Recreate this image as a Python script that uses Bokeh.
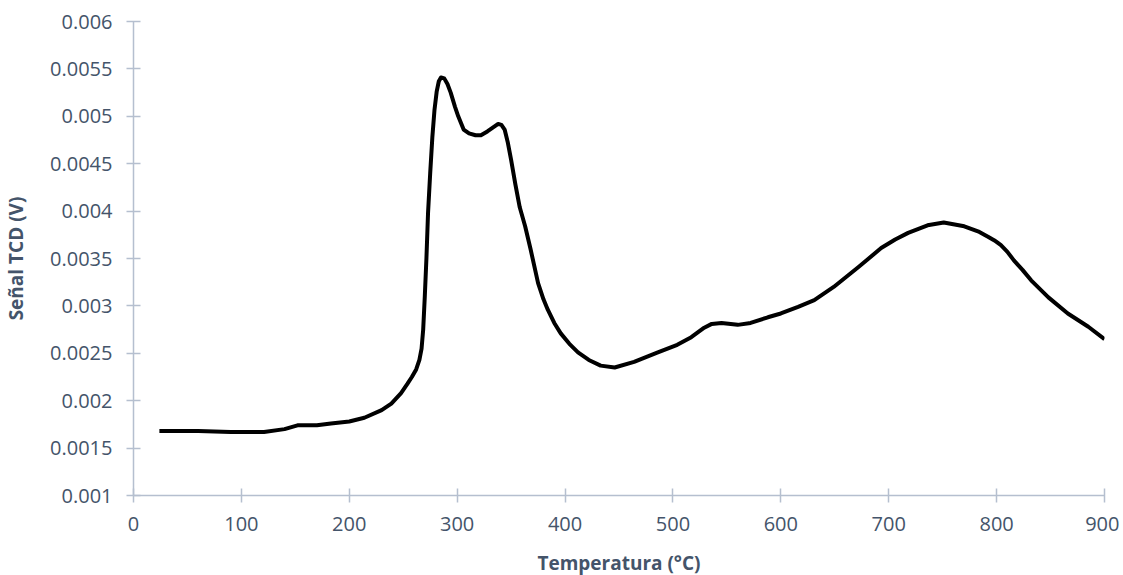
from bokeh.plotting import figure
from bokeh.models import Range1d, FixedTicker, CustomJSTickFormatter
from bokeh.embed import file_html
from bokeh.resources import INLINE

temperature = [24, 40, 60, 90, 121, 140, 152, 170, 183, 200, 214, 230, 239, 248, 254, 258, 262,
               265, 267, 268.5, 270, 271.5, 273, 275, 277, 279, 281, 283, 285, 288, 291, 294,
               298, 301, 306, 311, 317, 322, 328, 333, 338, 341, 344, 347, 350, 354, 358, 363,
               368, 375, 380, 384, 390, 396, 404, 412, 422, 433, 446, 464, 486, 504, 517, 523,
               529, 536, 545, 560, 572, 588, 600, 616, 631, 649, 672, 693, 706, 718, 736, 751,
               770, 784, 792, 798, 804, 810, 816, 824, 832, 848, 866, 885, 900]
signal = [0.00168, 0.00168, 0.00168, 0.00167, 0.00167, 0.00170, 0.00174, 0.00174, 0.00176,
          0.00178, 0.00182, 0.00190, 0.00197, 0.00208, 0.00218, 0.00225, 0.00233, 0.00243,
          0.00255, 0.00275, 0.00310, 0.00350, 0.00398, 0.00440, 0.00478, 0.00507, 0.00526,
          0.00537, 0.00541, 0.00540, 0.00534, 0.00525, 0.00510, 0.00500, 0.00486, 0.00482,
          0.00480, 0.00480, 0.00484, 0.00488, 0.00492, 0.00491, 0.00486, 0.00472, 0.00454,
          0.00428, 0.00404, 0.00384, 0.00360, 0.00324, 0.00307, 0.00296, 0.00282, 0.00271,
          0.00260, 0.00251, 0.00243, 0.00237, 0.00235, 0.00241, 0.00251, 0.00259, 0.00267,
          0.00272, 0.00277, 0.00281, 0.00282, 0.00280, 0.00282, 0.00288, 0.00292, 0.00299,
          0.00306, 0.00320, 0.00341, 0.00361, 0.00370, 0.00377, 0.00385, 0.00388, 0.00384,
          0.00378, 0.00373, 0.00369, 0.00364, 0.00357, 0.00348, 0.00338, 0.00327, 0.00309,
          0.00292, 0.00278, 0.00265]

x_ticks = [0, 100, 200, 300, 400, 500, 600, 700, 800, 900]
y_ticks = [0.001, 0.0015, 0.002, 0.0025, 0.003, 0.0035, 0.004, 0.0045, 0.005, 0.0055, 0.006]

TEXT = "#44546A"
AXIS = "#B5BFCF"
FONT = "Open Sans"

p = figure(width=1119, height=578, output_backend="svg", toolbar_location=None,
           x_range=Range1d(0, 900), y_range=Range1d(0.001, 0.006),
           min_border_left=130, min_border_right=15, min_border_top=21, min_border_bottom=78)
p.outline_line_color = None
p.xgrid.visible = False
p.ygrid.visible = False

p.line(temperature, signal, line_color="black", line_width=4, line_join="round")

p.xaxis.ticker = FixedTicker(ticks=x_ticks)
p.yaxis.ticker = FixedTicker(ticks=y_ticks)
p.yaxis.formatter = CustomJSTickFormatter(code="return tick.toFixed(4).replace(/0+$/, '');")

for ax in (p.xaxis[0], p.yaxis[0]):
    ax.axis_line_color = AXIS
    ax.axis_line_width = 1.5
    ax.major_tick_line_color = AXIS
    ax.major_tick_line_width = 1.5
    ax.major_tick_in = 7
    ax.major_tick_out = 7
    ax.minor_tick_line_color = None
    ax.major_label_text_color = TEXT
    ax.major_label_text_font = FONT
    ax.major_label_text_font_size = "20px"
    ax.axis_label_text_color = TEXT
    ax.axis_label_text_font = FONT
    ax.axis_label_text_font_style = "bold"
    ax.axis_label_text_font_size = "19px"

p.xaxis.axis_label = "Temperatura (°C)"
p.yaxis.axis_label = "Señal TCD (V)"
p.xaxis.major_label_standoff = 14
p.yaxis.major_label_standoff = 14
p.xaxis.axis_label_standoff = 16
p.yaxis.axis_label_standoff = 18

open("out.html", "w").write(file_html(p, INLINE))
